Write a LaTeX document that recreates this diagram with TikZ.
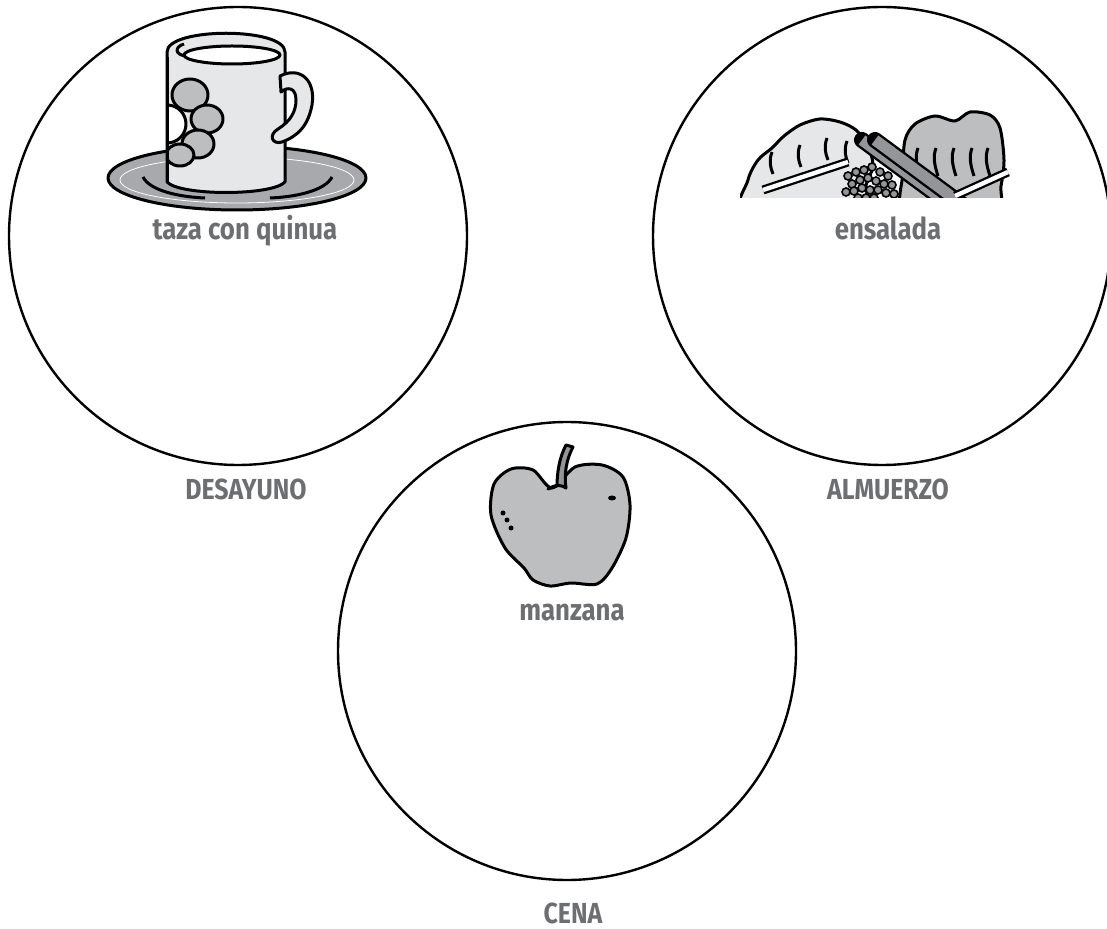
\documentclass[tikz,border=0pt]{standalone}
\usepackage{fontspec}
\newfontfamily\rotulo[FakeStretch=0.86]{Fira Sans}
\definecolor{gristexto}{RGB}{109,110,113}
\definecolor{grisclaro}{RGB}{230,231,232}
\definecolor{grismedio}{RGB}{188,190,192}
\definecolor{grisoscuro}{RGB}{147,149,152}
\definecolor{grisplato}{RGB}{167,169,172}

\begin{document}
\begin{tikzpicture}[x=0.5pt,y=-0.5pt,
    plato/.style={draw,circle,line width=1.2pt,minimum size=229pt,inner sep=0pt},
    comida/.style={font=\rotulo\bfseries\fontsize{15}{18}\selectfont,text=gristexto,anchor=base},
    tiempo/.style={font=\rotulo\bfseries\fontsize{14.5}{17}\selectfont,text=gristexto,anchor=base},
    trazo/.style={line width=1.5pt,line join=round}]
    \useasboundingbox (0,0) rectangle (1107,929);

    % los tres platos
    \node[plato] (desayuno) at (238,236) {};
    \node[plato] (almuerzo) at (882,236) {};
    \node[plato] (cena) at (567,651) {};

    % taza sobre el platillo
    \draw[trazo,fill=grisplato] (237,178) ellipse [x radius=129,y radius=32];
    \draw[white,line width=0.4pt] (237,180) ellipse [x radius=117,y radius=23];
    \draw[trazo] (143,177) .. controls (150,191) and (180,197) .. (205,198);
    \draw[trazo] (270,198) .. controls (295,197) and (325,191) .. (332,177);
    \draw[trazo,fill=grisclaro] (167,52) .. controls (167,27) and (285,27) .. (285,52)
        -- (285,182) .. controls (272,196) and (180,196) .. (167,182) -- cycle;
    \begin{scope}
        \clip (168,57) rectangle (284,181);
        \foreach \cx/\cy/\rx/\ry in {190/95/18/16,207/119/16/14,198/144/16/14,180/155/14/11} {
            \draw[trazo,fill=grismedio] (\cx,\cy) ellipse [x radius=\rx,y radius=\ry];
        }
        \draw[trazo,fill=white] (167,124) circle [radius=19];
    \end{scope}
    \draw[trazo] (167,57) -- (167,182);
    \draw[trazo,fill=white] (232,55) ellipse [x radius=48,y radius=9];
    \draw[trazo] (184,44) .. controls (174,47) and (175,55) .. (186,56);
    \draw[trazo,fill=grisclaro] (280,76) .. controls (300,66) and (316,80) .. (312,105)
        .. controls (308,126) and (298,136) .. (282,142)
        .. controls (272,145) and (268,135) .. (278,129)
        .. controls (291,121) and (296,111) .. (296,100)
        .. controls (296,88) and (288,86) .. (281,92) -- cycle;

    % ensalada
    \begin{scope}
        \clip (740,100) rectangle (1012,198);
        \draw[trazo,fill=grisclaro] plot[smooth cycle] coordinates {(745,215) (748,180)
            (758,160) (772,148) (784,136) (800,125) (820,119) (840,122) (856,130)
            (868,146) (873,166) (866,185) (860,215)};
        \foreach \vx/\vy in {772/152,800/145,827/138,847/141} {
            \draw[trazo] (\vx,\vy) .. controls (\vx-3,\vy+8) and (\vx-2,\vy+15) .. (\vx+1,\vy+22);
        }
        \draw[line width=4.5pt] (763,190) -- (848,162);
        \draw[white,line width=2.2pt] (763,190) -- (848,162);
        \draw[trazo,fill=grismedio] plot[smooth cycle] coordinates {(906,215) (903,172)
            (905,140) (915,124) (935,116) (955,121) (970,112) (990,115) (1000,128)
            (1004,160) (1001,186) (994,215)};
        \foreach \vx in {918,936,954,972,988} {
            \draw[trazo] (\vx,148) .. controls (\vx-3,156) and (\vx-2,164) .. (\vx+2,176);
        }
        \foreach \dx in {0,13} {
            \draw[line width=8pt,line cap=round] (862+\dx,140) -- (950+\dx,205);
            \draw[grisoscuro,line width=5.6pt] (862+\dx,140) -- (950+\dx,205);
        }
        \foreach \px/\py in {848/176,856/172,864/170,872/167,880/172,888/176,852/184,
            860/180,868/178,876/181,884/184,892/185,846/192,854/191,862/188,870/190,
            878/190,886/193,894/194,858/198,866/198,874/198} {
            \draw[line width=0.8pt,fill=grisoscuro] (\px,\py) circle [radius=4];
        }
        \draw[line width=4.5pt] (955,196) -- (1008,172);
        \draw[white,line width=2.2pt] (955,196) -- (1008,172);
    \end{scope}

    % manzana
    \draw[trazo,fill=grismedio] plot[smooth cycle] coordinates {(552,488) (575,467)
        (602,465) (623,477) (630,505) (626,538) (612,568) (597,584) (571,583)
        (550,586) (533,580) (524,568) (505,548) (491,515) (494,484) (511,469)
        (533,470)};
    \draw[trazo,fill=grisoscuro] (548,489) .. controls (556,484) and (562,485) .. (566,488)
        .. controls (564,475) and (566,460) .. (573,447) -- (566,445)
        .. controls (559,458) and (557,474) .. (557,486) -- cycle;
    \fill (503,513) circle [radius=2.5] (507,520) circle [radius=2.5] (511,528) circle [radius=2.5];
    \fill (612,498) ellipse [x radius=4,y radius=2.5];

    % rotulos
    \node[comida] (taza) at (245,240) {taza con quinua};
    \node[comida] (lechuga) at (888,240) {ensalada};
    \node[comida] (fruta) at (572,620) {manzana};
    \node[tiempo] (rotDesayuno) at (246,500) {DESAYUNO};
    \node[tiempo] (rotAlmuerzo) at (888,500) {ALMUERZO};
    \node[tiempo] (rotCena) at (573,923) {CENA};
\end{tikzpicture}
\end{document}
